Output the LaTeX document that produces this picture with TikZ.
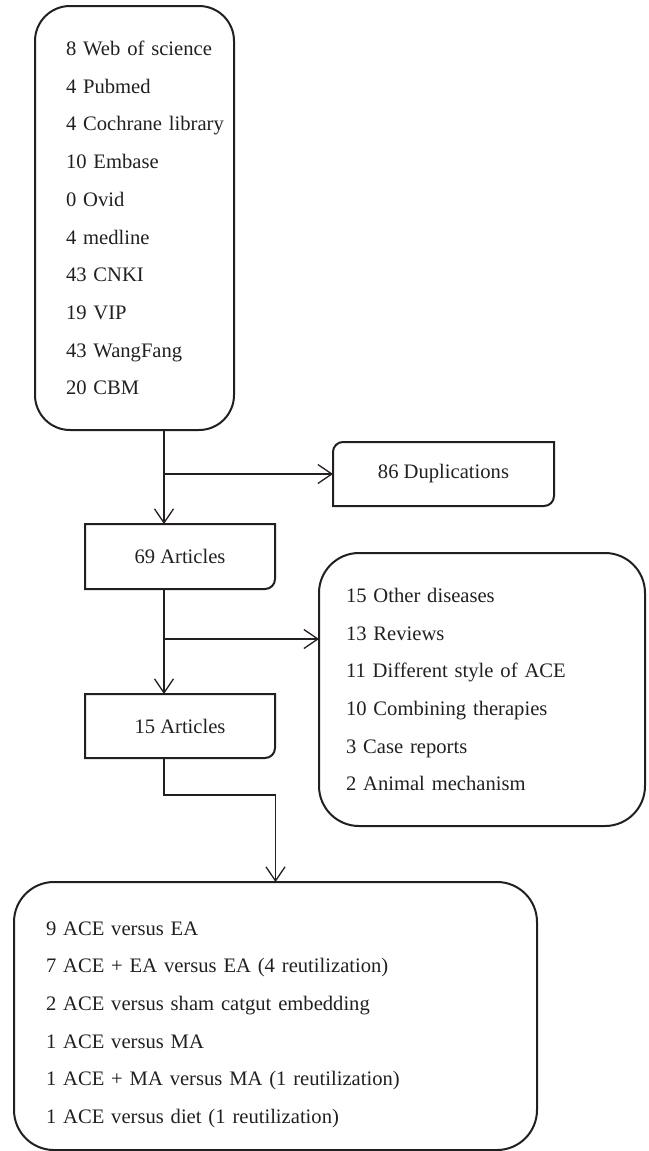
\documentclass[tikz,border=0pt]{standalone}
\usepackage{fontspec}
\setmainfont{Liberation Serif}
\usepackage{xcolor}
\usepackage{tikz}
\usetikzlibrary{positioning,arrows.meta}
\definecolor{inkgray}{RGB}{35,31,32}
\tikzset{
  bigbox/.style={draw=inkgray, line width=2pt, outer sep=0pt, align=left,
                 text=inkgray, font=\fontsize{20.6}{37.7}\selectfont},
  smallbox/.style={outer sep=0pt, inner sep=0pt, align=center,
                   text=inkgray, font=\fontsize{20.6}{37.7}\selectfont},
  boxline/.style={draw=inkgray, line width=2pt},
  arr/.style={-{Straight Barb[length=14pt,width=19pt]}, line width=1.3pt, draw=inkgray}
}

\begin{document}
\begin{tikzpicture}[x=1pt, y=-1pt]
        \useasboundingbox (0,0) rectangle (648,1151);
        % search results
        \node[bigbox, rounded corners=35pt, inner xsep=31pt, text width=137pt,
              minimum width=199pt, minimum height=424pt] (src) at (134.5,218)
             {\mbox{8 Web of science}\\ 4 Pubmed\\ \mbox{4 Cochrane library}\\ 10 Embase\\
              0 Ovid\\ 4 medline\\ 43 CNKI\\ 19 VIP\\ 43 WangFang\\ 20 CBM};
        \node[smallbox, minimum width=190pt, minimum height=65pt,
              below right=94pt and 50pt of src.south west] (a69) {69 Articles};
        \node[smallbox, minimum width=221pt, minimum height=64pt,
              above right=18pt and 58pt of a69.north east] (dup) {86 Duplications};
        \node[smallbox, minimum width=190pt, minimum height=64pt,
              below=105pt of a69.south] (a15) {15 Articles};
        \node[bigbox, rounded corners=40pt, inner xsep=27pt, text width=272pt,
              minimum height=273pt, below right=29pt and 44pt of a69.north east] (excl)
             {15 Other diseases\\ 13 Reviews\\ 11 Different style of ACE\\
              10 Combining therapies\\ 3 Case reports\\ 2 Animal mechanism};
        \node[bigbox, rounded corners=40pt, inner xsep=32pt, text width=459pt,
              minimum height=268pt] (res) at (275.5,1016)
             {\rule{0pt}{31pt}9 ACE versus EA\\ 7 ACE + EA versus EA (4 reutilization)\\
              2 ACE versus sham catgut embedding\\ 1 ACE versus MA\\
              1 ACE + MA versus MA (1 reutilization)\\ 1 ACE versus diet (1 reutilization)};
        % outlines with single rounded corners
        \draw[boxline] ([yshift=-10pt]dup.north west) arc[start angle=180, end angle=90, radius=10pt]
              -- (dup.north east) -- ([yshift=10pt]dup.south east)
              arc[start angle=0, end angle=-90, radius=10pt] -- (dup.south west) -- cycle;
        \draw[boxline] (a69.north west) -- (a69.north east) -- ([yshift=10pt]a69.south east)
              arc[start angle=0, end angle=-90, radius=10pt] -- (a69.south west) -- cycle;
        \draw[boxline] (a15.north west) -- (a15.north east) -- ([yshift=10pt]a15.south east)
              arc[start angle=0, end angle=-90, radius=10pt] -- (a15.south west) -- cycle;
        % connectors
        \coordinate (trunk) at (164,0);
        \coordinate (fork1) at (164,474);
        \coordinate (fork2) at (164,639);
        \draw[arr] (src.south -| trunk) -- (a69.north -| trunk);
        \draw[arr] (fork1) -- (dup.west);
        \draw[arr] (a69.south -| trunk) -- (a15.north -| trunk);
        \draw[arr] (fork2) -- (fork2 -| excl.west);
        \draw[arr] (a15.south -| trunk) -- ++(0,37) -| (res.north);
      \end{tikzpicture}
\end{document}
